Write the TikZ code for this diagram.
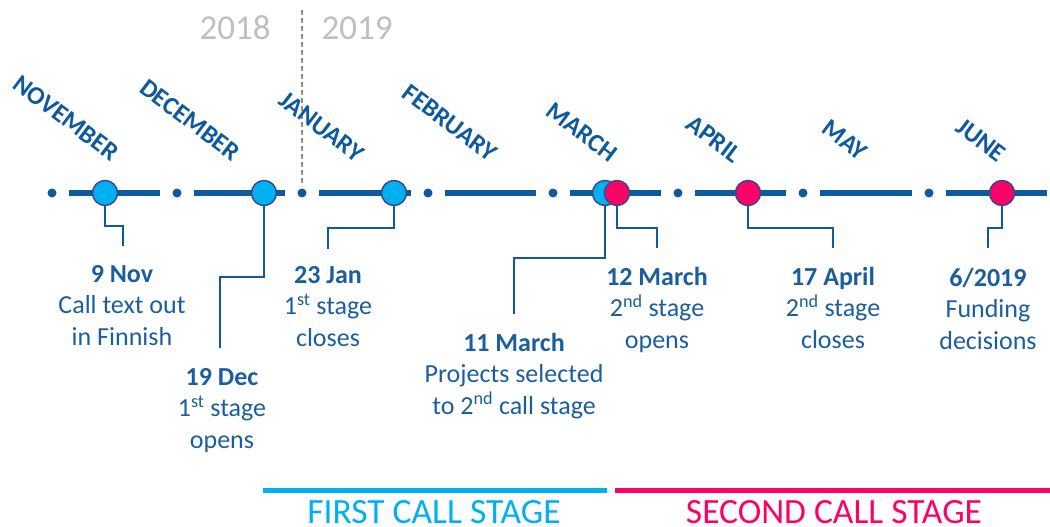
\documentclass[tikz,border=0pt]{standalone}
\usepackage{fontspec}
\setmainfont{Carlito}
\definecolor{tlblue}{HTML}{0E5A9C}
\definecolor{txtblue}{HTML}{1B5E9E}
\definecolor{ring}{HTML}{3B4A88}
\definecolor{cyanev}{HTML}{00B0F0}
\definecolor{pinkev}{HTML}{FF0066}
\definecolor{yeargray}{HTML}{BFBFBF}
\tikzset{
  bar/.style={line width=6pt, tlblue, shorten <=12pt, shorten >=12pt},
  tick/.style={circle, fill=tlblue, inner sep=0pt, minimum size=9pt},
  evc/.style={circle, fill=cyanev, draw=ring, line width=1.5pt, inner sep=0pt, minimum size=25pt},
  evp/.style={circle, fill=pinkev, draw=ring, line width=1.5pt, inner sep=0pt, minimum size=25pt},
  lead/.style={tlblue, line width=2pt},
  month/.style={font=\fontsize{25.5}{25.5}\selectfont\bfseries, text=tlblue, rotate=-37, inner sep=0pt},
  year/.style={font=\fontsize{35}{35}\selectfont, text=yeargray, inner sep=0pt},
  lbl/.style={font=\fontsize{26}{31.5}\selectfont, text=txtblue, align=center, anchor=base, inner sep=0pt},
  stage/.style={font=\fontsize{35.5}{35.5}\selectfont, inner sep=0pt, text height=23pt, text depth=0pt},
}
\begin{document}
\begin{tikzpicture}[x=1pt,y=-1pt]
\useasboundingbox (0,0) rectangle (1050,527);
% year divider
\coordinate (divtop) at (302,10);
\coordinate (divbot) at (302,186);
\draw[yeargray!75!black, dash pattern=on 5pt off 3pt, line width=1.2pt] (divtop) -- (divbot);
\node[year] (y18) at (235,28) {2018};
\node[year] (y19) at (357,28) {2019};
% months
\node[month] (mnov) at (66,118) {NOVEMBER};
\node[month] (mdec) at (190,120) {DECEMBER};
\node[month] (mjan) at (322,127) {JANUARY};
\node[month] (mfeb) at (450,123) {FEBRUARY};
\node[month] (mmar) at (582,132) {MARCH};
\node[month] (mapr) at (714,139) {APRIL};
\node[month] (mmay) at (845,140) {MAY};
\node[month] (mjun) at (981,140) {JUNE};
% timeline ticks
\node[tick] (d1) at (52,193) {};
\node[tick] (d2) at (177,193) {};
\node[tick] (d3) at (302,193) {};
\node[tick] (d4) at (428,193) {};
\node[tick] (d5) at (553,193) {};
\node[tick] (d6) at (678,193) {};
\node[tick] (d7) at (803,193) {};
\node[tick] (d8) at (929,193) {};
\coordinate (dend) at (1059,193);
\draw[bar] (d1) -- (d2);
\draw[bar] (d2) -- (d3);
\draw[bar] (d3) -- (d4);
\draw[bar] (d4) -- (d5);
\draw[bar] (d5) -- (d6);
\draw[bar] (d6) -- (d7);
\draw[bar] (d7) -- (d8);
\draw[bar] (d8) -- (dend);
% leader end points
\coordinate (enov) at (123,246);
\coordinate (edec) at (220,348);
\coordinate (ejan) at (328,249);
\coordinate (emar) at (514,314);
\coordinate (emar2) at (657,248);
\coordinate (eapr) at (833,248);
\coordinate (ejun) at (988,248);
% events
\coordinate (pnov) at (105,193);
\coordinate (pdec) at (264,193);
\coordinate (pjan) at (394,193);
\coordinate (pmar) at (605,193);
\coordinate (pmar2) at (617,193);
\coordinate (papr) at (748,193);
\coordinate (pjun) at (1002,193);
\draw[lead] (pnov) |- (pnov |- 0,226) -| (enov);
\draw[lead] (pdec) |- (pdec |- 0,277) -| (edec);
\draw[lead] (pjan) |- (pjan |- 0,228) -| (ejan);
\draw[lead] (pmar) |- (pmar |- 0,258) -| (emar);
\draw[lead] (pmar2) |- (pmar2 |- 0,228) -| (emar2);
\draw[lead] (papr) |- (papr |- 0,228) -| (eapr);
\draw[lead] (pjun) |- (pjun |- 0,228) -| (ejun);
\node[evc] (nov) at (pnov) {};
\node[evc] (dec) at (pdec) {};
\node[evc] (jan) at (pjan) {};
\node[evc] (mar) at (pmar) {};
\node[evp] (mar2) at (pmar2) {};
\node[evp] (apr) at (papr) {};
\node[evp] (jun) at (pjun) {};
% labels (anchor = baseline of last line)
\node[lbl] (lnov) at (122,345) {\textbf{9 Nov}\\Call text out\\in Finnish};
\node[lbl] (ldec) at (222,448) {\textbf{19 Dec}\\1\textsuperscript{st} stage\\opens};
\node[lbl] (ljan) at (328,346) {\textbf{23 Jan}\\1\textsuperscript{st} stage\\closes};
\node[lbl] (lmar) at (514,414) {\textbf{11 March}\\Projects selected\\to 2\textsuperscript{nd} call stage};
\node[lbl] (lmar2) at (657,348) {\textbf{12 March}\\2\textsuperscript{nd} stage\\opens};
\node[lbl] (lapr) at (833,348) {\textbf{17 April}\\2\textsuperscript{nd} stage\\closes};
\node[lbl] (ljun) at (988,349) {\textbf{6/2019}\\Funding\\decisions};
% stages
\coordinate (s1a) at (263,490);
\coordinate (s1b) at (607,490);
\coordinate (s2a) at (615,490);
\coordinate (s2b) at (1050,490);
\draw[cyanev, line width=5pt] (s1a) -- (s1b);
\draw[pinkev, line width=5pt] (s2a) -- (s2b);
\node[stage, text=cyanev] (st1) at (434,512) {FIRST CALL STAGE};
\node[stage, text=pinkev] (st2) at (834,512) {SECOND CALL STAGE};
\end{tikzpicture}
\end{document}
